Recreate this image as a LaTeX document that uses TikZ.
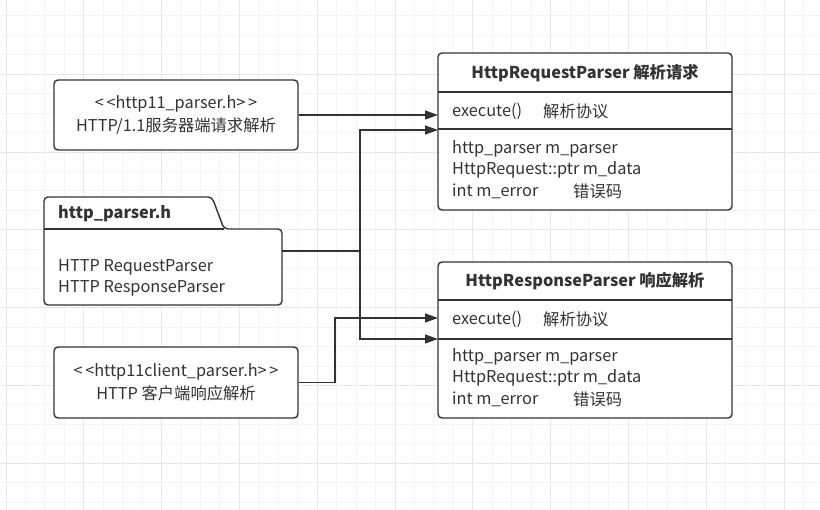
\documentclass[tikz,border=0pt]{standalone}
\usepackage{fontspec}
\setmainfont{Noto Sans CJK SC}
\usetikzlibrary{arrows.meta}
\definecolor{ink}{HTML}{333333}
\definecolor{gridminor}{HTML}{F3F3F3}
\definecolor{gridmajor}{HTML}{E8E8E8}
\begin{document}
\begin{tikzpicture}[x=1pt,y=-1pt,
  box/.style={draw=ink,line width=1.4pt,rounded corners=4pt,fill=white,inner sep=0pt},
  txt/.style={text=ink,font=\fontsize{16.3}{23}\selectfont,inner sep=0pt},
  btxt/.style={text=ink,font=\fontsize{16.3}{23}\selectfont\bfseries,inner sep=0pt},
  conn/.style={draw=ink,line width=1.4pt},
  arr/.style={conn,-{Triangle[length=13pt,width=9pt]}}]
\useasboundingbox (0,0) rectangle (820,510);
\fill[white] (0,0) rectangle (820,510);
% grid
\foreach \i in {0,...,42}{\draw[gridminor,line width=1pt] (6+19.45*\i,0) -- (6+19.45*\i,510);}
\foreach \j in {1,...,26}{\draw[gridminor,line width=1pt] (0,-3.5+19.45*\j) -- (820,-3.5+19.45*\j);}
\foreach \i in {0,4,...,40}{\draw[gridmajor,line width=1pt] (6+19.45*\i,0) -- (6+19.45*\i,510);}
\foreach \j in {4,8,...,24}{\draw[gridmajor,line width=1pt] (0,-3.5+19.45*\j) -- (820,-3.5+19.45*\j);}

% left boxes
\node[box,txt,align=center,minimum width=244pt,minimum height=70pt] (hp) at (176,115)
  {<\,<http11\_parser.h>\,>\\HTTP/1.1服务器端请求解析};
\node[box,txt,align=center,minimum width=244pt,minimum height=71pt] (cl) at (176,382.5)
  {<\,<http11client\_parser.h>\,>\\HTTP 客户端响应解析};

% package
\draw[conn,fill=white,rounded corners=4pt] (44,250) -- (44,197) -- (212,197) -- (224,229)
  -- (282,229) -- (282,305) -- (44,305) -- cycle;
\draw[conn] (44,229) -- (224,229);
\node[inner sep=0pt,minimum width=238pt,minimum height=76pt] (pkg) at (163,267) {};
\node[btxt,anchor=west] (pkgt) at (58,214) {http\_parser.h};
\node[txt,anchor=west] (pkg1) at (58,267) {HTTP RequestParser};
\node[txt,anchor=west] (pkg2) at (58,288) {HTTP ResponseParser};

% request class
\node[box,minimum width=294pt,minimum height=157pt] (req) at (585,131.5) {};
\draw[conn] (438,92) -- (732,92);
\draw[conn] (438,129) -- (732,129);
\node[btxt] (reqt) at (585,73) {HttpRequestParser 解析请求};
\node[txt,anchor=west] (reqe) at (452,111) {execute()};
\node[txt,anchor=west] (reqe2) at (543,111) {解析协议};
\node[txt,anchor=west] (req1) at (452,149) {http\_parser m\_parser};
\node[txt,anchor=west] (req2) at (452,170) {HttpRequest::ptr m\_data};
\node[txt,anchor=west] (req3) at (452,191) {int m\_error};
\node[txt,anchor=west] (req4) at (573,191) {错误码};

% response class
\node[box,minimum width=294pt,minimum height=156pt] (res) at (585,340) {};
\draw[conn] (438,300) -- (732,300);
\draw[conn] (438,339) -- (732,339);
\node[btxt] (rest) at (585,281) {HttpResponseParser 响应解析};
\node[txt,anchor=west] (rese) at (452,319) {execute()};
\node[txt,anchor=west] (rese2) at (543,319) {解析协议};
\node[txt,anchor=west] (res1) at (452,357) {http\_parser m\_parser};
\node[txt,anchor=west] (res2) at (452,378) {HttpRequest::ptr m\_data};
\node[txt,anchor=west] (res3) at (452,399) {int m\_error};
\node[txt,anchor=west] (res4) at (573,399) {错误码};

% connectors
\coordinate (reqexec) at (438,115);
\coordinate (reqsep) at (438,130);
\coordinate (resexec) at (438,318);
\coordinate (ressep) at (438,339);
\coordinate (pkgout) at (282,251);
\coordinate (jn) at (360,251);
\coordinate (clbend) at (335,382.5);
\draw[arr] (hp.east) -- (reqexec);
\draw[conn] (pkgout) -- (jn);
\draw[arr] (jn) |- (reqsep);
\draw[arr] (jn) |- (ressep);
\draw[arr] (cl.east) -- (clbend) |- (resexec);
\end{tikzpicture}
\end{document}
